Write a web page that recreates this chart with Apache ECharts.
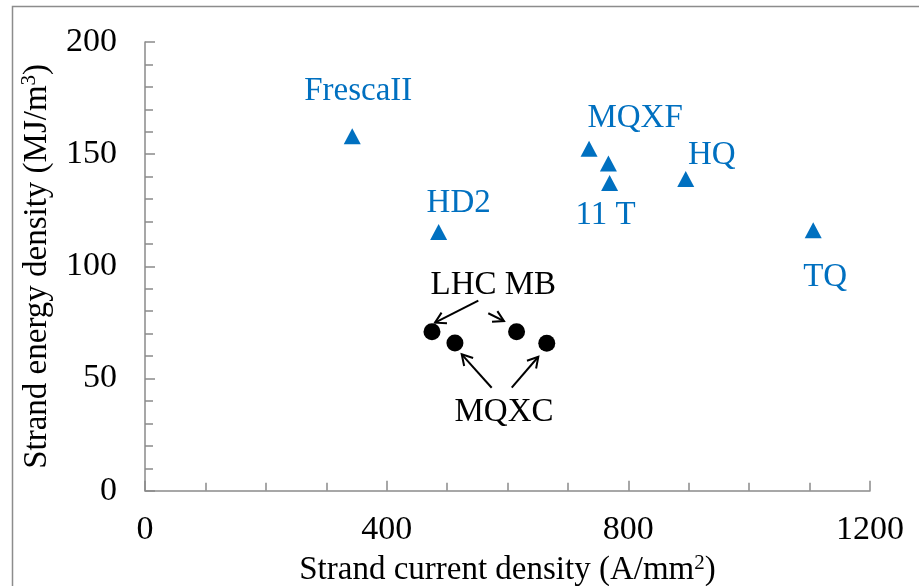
<!DOCTYPE html>
<html>
<head>
<meta charset="utf-8">
<script src="https://cdn.jsdelivr.net/npm/echarts@6/dist/echarts.min.js"></script>
<style>
html,body{margin:0;padding:0;background:#fff;}
#chart{width:919px;height:586px;}
</style>
</head>
<body>
<div id="chart"></div>
<script>
// ---- data ----
const nb3Names = ['FrescaII', 'HD2', 'MQXF', '', '11 T', 'HQ', 'TQ'];
const nb3Current = [343, 486, 735, 767, 769, 895, 1106];
const nb3Energy = [158, 115.3, 152.4, 145.8, 137.2, 138.9, 116.1];

const nbtiNames = ['LHC MB', 'MQXC', 'LHC MB', 'MQXC'];
const nbtiCurrent = [475, 513, 615, 665];
const nbtiEnergy = [70.9, 65.8, 70.9, 65.7];

const xTicks = [0, 400, 800, 1200];
const yTicks = [0, 50, 100, 150, 200];

// annotation text (data units) and arrows [x1, y1] -> [x2, y2] in data units
const noteNames = ['LHC MB', 'MQXC'];
const noteX = [576.5, 594.2];
const noteY = [91.7, 34.9];
const arrowFrom = [[551.7, 84.7], [568.2, 79.1], [573.8, 45.9], [607, 45.9]];
const arrowTo = [[480, 74.9], [594.2, 75.6], [524.2, 60.8], [651, 59.7]];

// ---- styling (label offsets in px) ----
const nb3LabelOffsets = [[6, -45], [20, -29], [46, -30], [0, 0], [-4, 32], [26, -24], [12, 47]];
const BLUE = '#0070C0';
const AXIS = '#8a8a8a';
const FONT = 'Liberation Serif';
const LABEL_SIZE = 33;

const chart = echarts.init(document.getElementById('chart'), null, {renderer: 'canvas'});

const nb3Data = nb3Current.map((x, i) => ({
  value: [x, nb3Energy[i]],
  name: nb3Names[i],
  label: {show: nb3Names[i] !== '', offset: nb3LabelOffsets[i]}
}));
const nbtiData = nbtiCurrent.map((x, i) => ({value: [x, nbtiEnergy[i]], name: nbtiNames[i]}));
const noteData = noteX.map((x, i) => ({value: [x, noteY[i]], name: noteNames[i]}));
const arrowData = arrowFrom.map((f, i) => [f[0], f[1], arrowTo[i][0], arrowTo[i][1]]);

const supRich = {sup: {fontFamily: FONT, fontSize: 21, color: '#000', verticalAlign: 'top', lineHeight: 36}};

const option = {
  backgroundColor: '#fff',
  animation: false,
  graphic: [{
    type: 'rect',
    shape: {x: 12.5, y: 6.5, width: 1000, height: 1000},
    style: {fill: 'none', stroke: '#8c8c8c', lineWidth: 1.5},
    silent: true
  }],
  grid: {left: 145, right: 49, top: 42, bottom: 95.3, containLabel: false, outerBoundsMode: 'none'},
  xAxis: {
    type: 'value', min: 0, max: 1200, interval: 400,
    name: 'Strand current density (A/mm{sup|2})',
    nameLocation: 'middle', nameGap: 62,
    nameTextStyle: {fontFamily: FONT, fontSize: 33, color: '#000', lineHeight: 36, rich: supRich},
    axisLine: {show: true, onZero: false, lineStyle: {color: AXIS, width: 1.5}},
    axisTick: {show: true, inside: true, length: 10, lineStyle: {color: AXIS, width: 1.5}},
    minorTick: {show: true, splitNumber: 4, length: 8, lineStyle: {color: AXIS, width: 1.5}},
    splitLine: {show: false},
    axisLabel: {fontFamily: FONT, fontSize: 34, color: '#000', margin: 22,
      formatter: v => xTicks.includes(v) ? String(v) : ''}
  },
  yAxis: {
    type: 'value', min: 0, max: 200, interval: 50,
    name: 'Strand energy density (MJ/m{sup|3})',
    nameLocation: 'middle', nameGap: 90, nameRotate: 90,
    nameTextStyle: {fontFamily: FONT, fontSize: 33, color: '#000', lineHeight: 36, rich: supRich},
    axisLine: {show: true, onZero: false, lineStyle: {color: AXIS, width: 1.5}},
    axisTick: {show: true, inside: true, length: 10, lineStyle: {color: AXIS, width: 1.5}},
    minorTick: {show: true, splitNumber: 5, length: 8, lineStyle: {color: AXIS, width: 1.5}},
    splitLine: {show: false},
    axisLabel: {fontFamily: FONT, fontSize: 34, color: '#000', margin: 28,
      formatter: v => yTicks.includes(v) ? String(v) : ''}
  },
  series: [
    {
      name: 'Nb3Sn', type: 'scatter', symbol: 'triangle', symbolSize: [17, 16],
      itemStyle: {color: BLUE, opacity: 1},
      label: {position: 'inside', formatter: '{b}', fontFamily: FONT, fontSize: LABEL_SIZE, color: BLUE, opacity: 1},
      emphasis: {disabled: true},
      data: nb3Data
    },
    {
      name: 'NbTi', type: 'scatter', symbol: 'circle', symbolSize: 17,
      itemStyle: {color: '#000', opacity: 1},
      emphasis: {disabled: true},
      data: nbtiData
    },
    {
      name: 'notes', type: 'scatter', symbolSize: 0, silent: true,
      itemStyle: {opacity: 1},
      label: {show: true, position: 'inside', formatter: '{b}', fontFamily: FONT, fontSize: LABEL_SIZE, color: '#000', opacity: 1},
      data: noteData
    },
    {
      name: 'arrows', type: 'custom', silent: true,
      encode: {x: [0, 2], y: [1, 3]},
      data: arrowData,
      renderItem: function (params, api) {
        const p1 = api.coord([api.value(0), api.value(1)]);
        const p2 = api.coord([api.value(2), api.value(3)]);
        const ang = Math.atan2(p2[1] - p1[1], p2[0] - p1[0]);
        const L = 12, A = Math.PI / 6;
        const h1 = [p2[0] - L * Math.cos(ang - A), p2[1] - L * Math.sin(ang - A)];
        const h2 = [p2[0] - L * Math.cos(ang + A), p2[1] - L * Math.sin(ang + A)];
        const st = {stroke: '#000', lineWidth: 2, fill: 'none', opacity: 1};
        return {
          type: 'group',
          children: [
            {type: 'line', shape: {x1: p1[0], y1: p1[1], x2: p2[0], y2: p2[1]}, style: st},
            {type: 'polyline', shape: {points: [h1, p2, h2]}, style: st}
          ]
        };
      }
    }
  ]
};
chart.setOption(option);
</script>
</body>
</html>
